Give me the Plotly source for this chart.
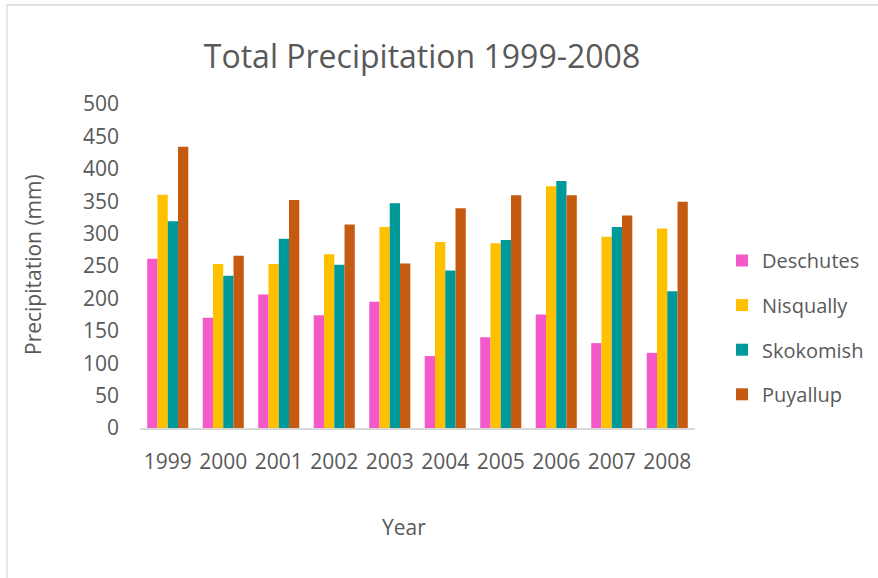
import plotly.graph_objects as go

years = ["1999", "2000", "2001", "2002", "2003", "2004", "2005", "2006", "2007", "2008"]
deschutes = [261, 170, 206, 174, 195, 111, 140, 175, 131, 116]
nisqually = [360, 253, 253, 268, 310, 287, 285, 373, 295, 308]
skokomish = [319, 235, 292, 252, 347, 243, 290, 381, 310, 211]
puyallup = [434, 266, 352, 314, 254, 339, 359, 359, 328, 349]

series_names = ["Deschutes", "Nisqually", "Skokomish", "Puyallup"]
series_values = [deschutes, nisqually, skokomish, puyallup]
series_colors = ["#F558C8", "#FFC000", "#009999", "#C55A11"]

FONT = "Open Sans"
TXT = "#595959"

W, H = 878, 578
L, R, T, B = 140, 183, 104, 150
pw, ph = W - L - R, H - T - B

def px(x):
    return (x - L) / pw

def py(y):
    return (H - B - y) / ph

fig = go.Figure()
for name, vals, col in zip(series_names, series_values, series_colors):
    fig.add_trace(go.Bar(x=years, y=vals, name=name, marker_color=col,
                         marker_line_width=0, legendgroup=name))

fig.update_layout(
    width=W, height=H,
    margin=dict(l=L, r=R, t=T, b=B, autoexpand=False),
    paper_bgcolor="white", plot_bgcolor="white",
    font=dict(family=FONT, color=TXT, size=20),
    barmode="group", bargap=0.26, bargroupgap=0,
    title=dict(text="Total Precipitation 1999-2008", x=422 / W, xanchor="center",
               y=1 - 57 / H, yanchor="middle", yref="container",
               font=dict(size=32, color=TXT, family=FONT)),
    xaxis=dict(showline=True, linecolor="#D9D9D9", linewidth=1.5, showgrid=False,
               ticks="", tickfont=dict(size=21, color=TXT), ticklabelstandoff=14),
    yaxis=dict(range=[0, 500], dtick=50, showgrid=False, showline=False, zeroline=False,
               ticks="", tickfont=dict(size=21, color=TXT), ticklabelstandoff=20),
    legend=dict(x=px(722), xanchor="left", y=py(241), yanchor="top",
                font=dict(size=20, color=TXT), tracegroupgap=15.6,
                traceorder="grouped", bgcolor="rgba(0,0,0,0)"),
    showlegend=True,
    annotations=[
        dict(text="Precipitation (mm)", x=px(33), y=py(265), xref="paper", yref="paper",
             textangle=-90, showarrow=False, xanchor="center", yanchor="middle",
             font=dict(size=21, color=TXT)),
        dict(text="Year", x=px(404), y=py(527), xref="paper", yref="paper",
             showarrow=False, xanchor="center", yanchor="middle",
             font=dict(size=21, color=TXT)),
    ],
    shapes=[
        dict(type="line", xref="paper", yref="paper", x0=px(7), x1=px(880), y0=py(5), y1=py(5),
             line=dict(color="#D9D9D9", width=1.3)),
        dict(type="line", xref="paper", yref="paper", x0=px(7), x1=px(7), y0=py(5), y1=py(580),
             line=dict(color="#D9D9D9", width=1.3)),
    ],
)

fig.write_html("out.html", config={"displayModeBar": False},
               post_script="document.body.style.margin='0';")
